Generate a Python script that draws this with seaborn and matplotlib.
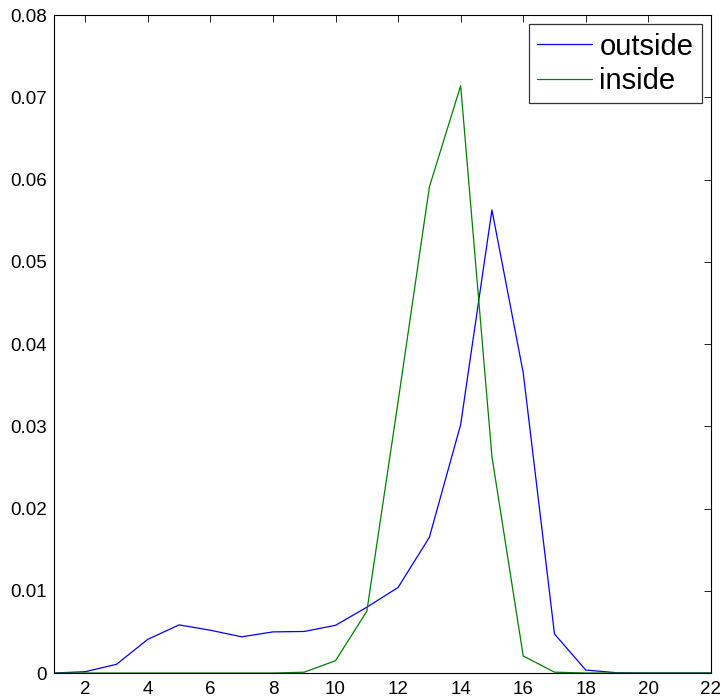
import matplotlib
matplotlib.use("Agg")
import matplotlib.pyplot as plt
import seaborn as sns
import pandas as pd

x_values = list(range(1, 23))
outside = [0.0, 0.00016, 0.00106, 0.0041, 0.00585, 0.0052, 0.0044, 0.0050,
           0.00505, 0.0058, 0.0080, 0.0104, 0.0165, 0.0302, 0.0563, 0.0365,
           0.00474, 0.00036, 0.00003, 0.0, 0.0, 0.0]
inside = [0.0, 0.0, 0.0, 0.0, 0.0, 0.0, 0.0, 0.0,
          0.0001, 0.0015, 0.0075, 0.0330, 0.0591, 0.0714, 0.0263, 0.00207,
          0.0001, 0.0, 0.0, 0.0, 0.0, 0.0]
series_names = ["outside", "inside"]
x_ticks = list(range(2, 23, 2))
y_ticks = [0, 0.01, 0.02, 0.03, 0.04, 0.05, 0.06, 0.07, 0.08]
y_tick_labels = ["0", "0.01", "0.02", "0.03", "0.04", "0.05", "0.06", "0.07", "0.08"]

df = pd.DataFrame({
    "x": x_values * 2,
    "value": outside + inside,
    "series": [series_names[0]] * len(x_values) + [series_names[1]] * len(x_values),
})

sns.set_style("white")
plt.rcParams["font.family"] = ["Liberation Sans", "DejaVu Sans"]
plt.rcParams["text.color"] = "black"
plt.rcParams["axes.labelcolor"] = "black"

fig = plt.figure(figsize=(7.21, 6.98), dpi=100)
ax = fig.add_axes([0.0749, 0.0358, 0.9111, 0.9427])

sns.lineplot(data=df, x="x", y="value", hue="series",
             palette={"outside": "#0000ff", "inside": "#008000"},
             linewidth=0.9, ax=ax, legend=True)

ax.set_xlim(1, 22)
ax.set_ylim(0, 0.08)
ax.set_xticks(x_ticks)
ax.set_xticklabels([str(t) for t in x_ticks])
ax.set_yticks(y_ticks)
ax.set_yticklabels(y_tick_labels)
ax.set_xlabel("")
ax.set_ylabel("")
ax.tick_params(direction="in", length=5, width=0.6, top=True, right=True,
               labelsize=13.5, colors="black", pad=5)
ax.tick_params(axis="x", pad=6)
for sp in ax.spines.values():
    sp.set_visible(True)
    sp.set_color("black")
    sp.set_linewidth(0.8)

leg = ax.legend(loc="upper right", fontsize=21, frameon=True, fancybox=False,
                handlelength=1.9, handletextpad=0.25, borderpad=0.28,
                labelspacing=0.22, borderaxespad=0.32)
leg.get_frame().set_edgecolor("black")
leg.get_frame().set_linewidth(0.9)
for text in leg.get_texts():
    text.set_color("black")
for line in leg.get_lines():
    line.set_linewidth(0.9)

fig.savefig("out.png", dpi=100)
